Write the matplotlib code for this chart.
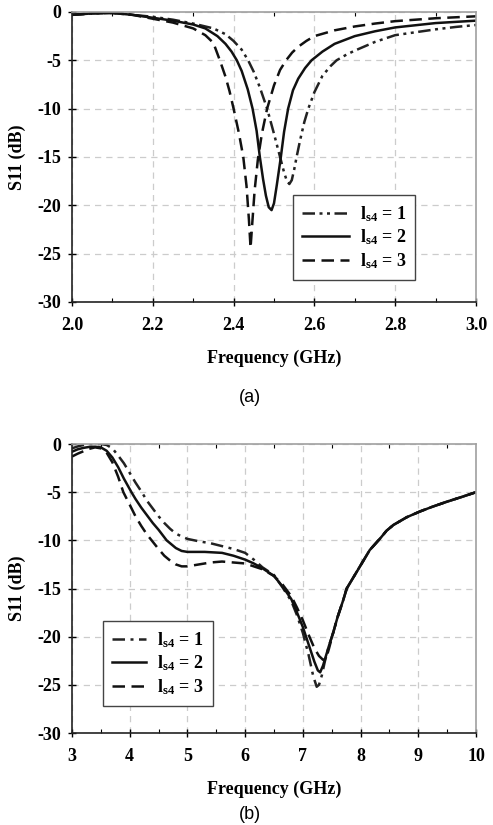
import matplotlib
matplotlib.use('Agg')
import matplotlib.pyplot as plt
from matplotlib.ticker import MultipleLocator, FormatStrFormatter


plt.rcParams['font.family'] = 'Liberation Serif'
plt.rcParams['font.weight'] = 'bold'
plt.rcParams['axes.labelweight'] = 'bold'
plt.rcParams['axes.unicode_minus'] = False
plt.rcParams['mathtext.fontset'] = 'custom'
plt.rcParams['mathtext.rm'] = 'Liberation Serif:bold'
plt.rcParams['mathtext.it'] = 'Liberation Serif:bold'
plt.rcParams['mathtext.default'] = 'rm'

# (a) 2-3 GHz sweep
freq_a1 = [2.00, 2.05, 2.10, 2.15, 2.20, 2.25, 2.30, 2.35, 2.38, 2.40, 2.42, 2.436, 2.45, 2.465,
           2.483, 2.50, 2.515, 2.525, 2.532, 2.538, 2.544, 2.550, 2.556, 2.565, 2.575, 2.585, 2.60,
           2.62, 2.64, 2.655, 2.68, 2.70, 2.75, 2.80, 2.85, 2.90, 2.95, 3.00]
s11_a1 = [-0.3, -0.15, -0.1, -0.3, -0.5, -0.8, -1.2, -1.7, -2.3, -3.0, -3.9, -5.0, -6.2, -7.8,
          -10.0, -12.6, -15.0, -16.6, -17.5, -17.8, -17.4, -16.3, -15.0, -13.2, -11.4, -10.0, -8.3,
          -6.6, -5.6, -5.0, -4.4, -4.0, -3.1, -2.4, -2.1, -1.8, -1.55, -1.35]

freq_a2 = [2.00, 2.05, 2.10, 2.15, 2.20, 2.25, 2.30, 2.33, 2.36, 2.38, 2.395, 2.408, 2.42, 2.435,
           2.447, 2.457, 2.465, 2.473, 2.48, 2.487, 2.494, 2.500, 2.507, 2.517, 2.525, 2.535, 2.547,
           2.56, 2.577, 2.593, 2.62, 2.65, 2.70, 2.75, 2.80, 2.90, 3.00]
s11_a2 = [-0.3, -0.15, -0.1, -0.3, -0.6, -0.9, -1.3, -1.7, -2.5, -3.3, -4.1, -5.0, -6.1, -8.0,
          -10.0, -12.3, -15.0, -17.3, -19.0, -20.2, -20.5, -19.8, -17.9, -15.0, -12.4, -10.0, -8.1,
          -6.9, -5.8, -5.0, -4.1, -3.3, -2.5, -2.0, -1.6, -1.15, -0.9]

freq_a3 = [2.00, 2.05, 2.10, 2.15, 2.20, 2.25, 2.30, 2.33, 2.35, 2.366, 2.38, 2.39, 2.40, 2.413,
           2.424, 2.432, 2.438, 2.442, 2.446, 2.452, 2.46, 2.47, 2.483, 2.50, 2.515, 2.53, 2.545,
           2.56, 2.58, 2.60, 2.65, 2.70, 2.75, 2.80, 2.90, 3.00]
s11_a3 = [-0.3, -0.15, -0.1, -0.3, -0.7, -1.1, -1.7, -2.4, -3.2, -5.0, -6.7, -8.2, -10.0, -12.5,
          -15.0, -18.0, -21.5, -24.4, -22.0, -18.5, -15.3, -12.6, -10.0, -7.6, -6.0, -5.0, -4.2,
          -3.6, -3.0, -2.5, -1.9, -1.5, -1.2, -0.95, -0.65, -0.45]

# (b) 3-10 GHz sweep
freq_b1 = [3.0, 3.1, 3.2, 3.3, 3.4, 3.5, 3.6, 3.7, 3.8, 3.9, 4.0, 4.1, 4.21, 4.3, 4.4, 4.5, 4.6,
           4.7, 4.8, 4.9, 5.0, 5.2, 5.4, 5.6, 5.8, 6.0, 6.15, 6.3, 6.5, 6.65, 6.8, 6.9, 7.0, 7.1,
           7.18, 7.24, 7.28, 7.33, 7.38, 7.45, 7.53, 7.6, 7.7, 7.76, 7.87, 7.99, 8.16, 8.34, 8.45,
           8.57, 8.8, 9.03, 9.25, 9.49, 9.75, 10.0]
s11_b1 = [-0.45, -0.25, -0.1, 0.0, 0.0, 0.0, -0.1, -0.45, -1.2, -2.0, -3.0, -4.0, -5.0, -5.9,
          -6.7, -7.5, -8.2, -8.8, -9.3, -9.6, -9.85, -10.1, -10.3, -10.6, -10.9, -11.3, -12.0,
          -12.8, -13.6, -14.9, -16.3, -17.8, -19.6, -21.9, -24.1, -25.2, -25.0, -24.0, -22.6,
          -21.0, -19.5, -18.0, -16.2, -15.0, -13.9, -12.7, -11.0, -9.8, -9.0, -8.4, -7.6, -7.0,
          -6.5, -6.0, -5.5, -5.0]

freq_b2 = [3.0, 3.1, 3.2, 3.3, 3.4, 3.5, 3.6, 3.7, 3.8, 3.9, 4.03, 4.1, 4.2, 4.3, 4.4, 4.5, 4.64,
           4.8, 4.9, 5.0, 5.3, 5.6, 5.8, 6.0, 6.15, 6.3, 6.5, 6.65, 6.8, 6.9, 7.0, 7.1, 7.2, 7.26,
           7.30, 7.35, 7.40, 7.45, 7.53, 7.6, 7.7, 7.76, 7.87, 7.99, 8.16, 8.34, 8.45, 8.57, 8.8,
           9.03, 9.25, 9.49, 9.75, 10.0]
s11_b2 = [-0.8, -0.55, -0.4, -0.3, -0.28, -0.35, -0.7, -1.4, -2.4, -3.6, -5.0, -5.7, -6.6, -7.4,
          -8.2, -8.9, -10.0, -10.8, -11.1, -11.2, -11.2, -11.3, -11.6, -12.0, -12.4, -12.9, -13.7,
          -14.8, -16.1, -17.5, -19.0, -20.8, -22.6, -23.5, -23.7, -23.0, -22.0, -21.0, -19.5,
          -18.0, -16.2, -15.0, -13.9, -12.7, -11.0, -9.8, -9.0, -8.4, -7.6, -7.0, -6.5, -6.0,
          -5.5, -5.0]

freq_b3 = [3.0, 3.1, 3.2, 3.3, 3.4, 3.5, 3.6, 3.7, 3.8, 3.89, 4.0, 4.1, 4.2, 4.3, 4.38, 4.5, 4.6,
           4.7, 4.8, 4.9, 5.0, 5.2, 5.4, 5.6, 5.8, 6.0, 6.15, 6.3, 6.5, 6.65, 6.8, 6.9, 7.0, 7.1,
           7.2, 7.28, 7.35, 7.40, 7.45, 7.53, 7.6, 7.7, 7.76, 7.87, 7.99, 8.16, 8.34, 8.45, 8.57,
           8.8, 9.03, 9.25, 9.49, 9.75, 10.0]
s11_b3 = [-1.3, -1.0, -0.75, -0.5, -0.35, -0.45, -0.9, -1.9, -3.4, -5.0, -6.3, -7.5, -8.5, -9.4,
          -10.0, -10.9, -11.6, -12.1, -12.5, -12.7, -12.7, -12.5, -12.3, -12.2, -12.3, -12.4,
          -12.7, -13.0, -13.7, -14.6, -15.8, -17.0, -18.3, -19.8, -21.2, -22.0, -22.4, -22.3,
          -21.3, -19.5, -18.0, -16.2, -15.0, -13.9, -12.7, -11.0, -9.8, -9.0, -8.4, -7.6, -7.0,
          -6.5, -6.0, -5.5, -5.0]

labels = [r'$l_{s4}$ = 1', r'$l_{s4}$ = 2', r'$l_{s4}$ = 3']

dash_dot_dot = (0, (5, 1.8, 1.2, 1.8, 1.2, 1.8))
dash_dot = (0, (5, 2.2, 1.2, 2.2))
dashed = (0, (5, 2.6))
lw = 1.8


def style_axes(ax, xmin, xmax, major, minor):
    ax.set_xlim(xmin, xmax)
    ax.set_ylim(-30, 0)
    ax.xaxis.set_major_locator(MultipleLocator(major))
    ax.xaxis.set_minor_locator(MultipleLocator(minor))
    ax.yaxis.set_major_locator(MultipleLocator(5))
    ax.grid(True, which='major', color='#cccccc', linestyle=(0, (5, 4)), linewidth=0.9)
    ax.tick_params(which='major', direction='inout', length=6, width=1, labelsize=13)
    ax.tick_params(axis='x', which='major', pad=8)
    ax.tick_params(axis='y', which='major', pad=5)
    ax.tick_params(which='minor', direction='in', length=3, width=0.8, top=True)
    ax.tick_params(axis='y', which='minor', left=False, right=False)
    for side in ('left', 'bottom'):
        ax.spines[side].set_color('#222222')
        ax.spines[side].set_linewidth(1.2)
    for side in ('top', 'right'):
        ax.spines[side].set_color('#a0a0a0')
        ax.spines[side].set_linewidth(1.2)
    ax.set_xlabel('Frequency (GHz)', fontsize=13, labelpad=11)
    ax.set_ylabel('S11 (dB)', fontsize=13, labelpad=8)


def add_legend(ax, anchor, handle_len):
    leg = ax.legend(loc='upper left', bbox_to_anchor=anchor, borderaxespad=0, fontsize=13,
                    fancybox=False, framealpha=1, edgecolor='#444444', handlelength=handle_len,
                    labelspacing=0.22, borderpad=0.5, handletextpad=0.6)
    leg.get_frame().set_linewidth(1.0)
    return leg


fig = plt.figure(figsize=(4.93, 8.25), dpi=100)

# top panel
ax1 = fig.add_axes([0.146, 0.634, 0.8195, 0.3515])
ax1.plot(freq_a1, s11_a1, color='#222222', linewidth=lw, linestyle=dash_dot_dot, label=labels[0])
ax1.plot(freq_a2, s11_a2, color='#111111', linewidth=lw, linestyle='-', label=labels[1])
ax1.plot(freq_a3, s11_a3, color='#111111', linewidth=lw, linestyle=dashed, label=labels[2])
style_axes(ax1, 2.0, 3.0, 0.2, 0.1)
ax1.xaxis.set_major_formatter(FormatStrFormatter('%.1f'))
add_legend(ax1, (0.547, 0.369), 2.6)

# bottom panel
ax2 = fig.add_axes([0.146, 0.1115, 0.8195, 0.3503])
ax2.plot(freq_b1, s11_b1, color='#222222', linewidth=lw, linestyle=dash_dot, label=labels[0])
ax2.plot(freq_b2, s11_b2, color='#111111', linewidth=lw, linestyle='-', label=labels[1])
ax2.plot(freq_b3, s11_b3, color='#111111', linewidth=lw, linestyle=dashed, label=labels[2])
style_axes(ax2, 3, 10, 1, 0.5)
add_legend(ax2, (0.0767, 0.3875), 1.9)

fig.text(0.507, 1 - 397 / 825, '(a)', ha='center', va='center', fontsize=13,
         family='Liberation Sans', weight='normal')
fig.text(0.507, 2 / 825, '(b)', ha='center', va='bottom', fontsize=13,
         family='Liberation Sans', weight='normal')

fig.savefig('out.png', dpi=100)
